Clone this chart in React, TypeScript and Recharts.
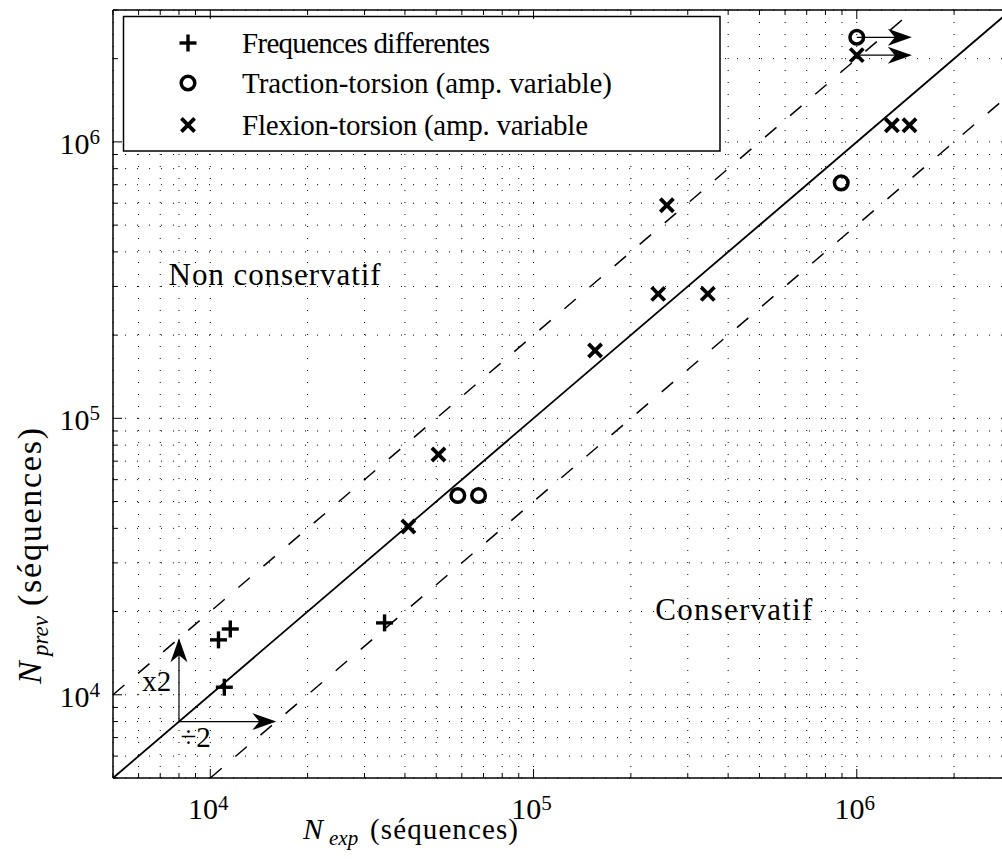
import React from 'react';
import { ScatterChart, Scatter, XAxis, YAxis, CartesianGrid, ReferenceLine, Customized } from 'recharts';

const FONT = '"Liberation Serif", "Times New Roman", serif';

const X_DOMAIN = [5000, 3000000];
const Y_DOMAIN = [5000, 3000000];
const X_TICKS = [5000, 6000, 7000, 8000, 9000, 10000, 20000, 30000, 40000, 50000, 60000, 70000, 80000, 90000, 100000, 200000, 300000, 400000, 500000, 600000, 700000, 800000, 900000, 1000000, 2000000, 3000000];
const Y_TICKS = [5000, 6000, 7000, 8000, 9000, 10000, 20000, 30000, 40000, 50000, 60000, 70000, 80000, 90000, 100000, 200000, 300000, 400000, 500000, 600000, 700000, 800000, 900000, 1000000, 2000000, 3000000];
const DECADES = [10000, 100000, 1000000];
const DECADE_EXPONENTS = ['4', '5', '6'];

const frequencesDifferentes = [
  { x: 11050, y: 10650 },
  { x: 10600, y: 15800 },
  { x: 11530, y: 17300 },
  { x: 34600, y: 18200 },
];
const tractionTorsion = [
  { x: 1000000, y: 2390000 },
  { x: 895000, y: 711000 },
  { x: 58300, y: 52600 },
  { x: 67600, y: 52600 },
];
const flexionTorsion = [
  { x: 1000000, y: 2060000 },
  { x: 1284000, y: 1149000 },
  { x: 1456000, y: 1149000 },
  { x: 258500, y: 590000 },
  { x: 243000, y: 282000 },
  { x: 346000, y: 282000 },
  { x: 155000, y: 176000 },
  { x: 50800, y: 74000 },
  { x: 41000, y: 40600 },
];

const unityLine = [{ x: 5000, y: 5000 }, { x: 3000000, y: 3000000 }];
const upperLine = [{ x: 5000, y: 10000 }, { x: 1500000, y: 3000000 }];
const lowerLine = [{ x: 10000, y: 5000 }, { x: 3000000, y: 1500000 }];

const arrowShafts = [
  [{ x: 1000000, y: 2390000 }, { x: 1460000, y: 2390000 }],
  [{ x: 1000000, y: 2060000 }, { x: 1460000, y: 2060000 }],
  [{ x: 8000, y: 8000 }, { x: 8000, y: 15800 }],
  [{ x: 8000, y: 8000 }, { x: 15800, y: 8000 }],
];
const arrowTips = [
  { x: 1480000, y: 2390000, dir: 'right' },
  { x: 1480000, y: 2060000, dir: 'right' },
  { x: 8000, y: 16000, dir: 'up' },
  { x: 16000, y: 8000, dir: 'right' },
];

const annotations = [
  { x: 7430, y: 303000, text: 'Non conservatif', anchor: 'start', size: 31, len: 212 },
  { x: 238000, y: 18700, text: 'Conservatif', anchor: 'start', size: 31, len: 157 },
  { x: 7570, y: 10300, text: 'x2', anchor: 'end', size: 29, len: 0 },
  { x: 8080, y: 6460, text: '\u00f72', anchor: 'start', size: 29, len: 0 },
];

const legendItems = [
  { label: 'Frequences differentes', marker: 'plus', len: 248 },
  { label: 'Traction-torsion (amp. variable)', marker: 'circle', len: 370 },
  { label: 'Flexion-torsion (amp. variable', marker: 'cross', len: 346 },
];

function PlusMark({ cx, cy }: any) {
  return (
    <g stroke="#000" strokeWidth={3.4} fill="none">
      <line x1={cx - 8.5} y1={cy} x2={cx + 8.5} y2={cy} />
      <line x1={cx} y1={cy - 8.5} x2={cx} y2={cy + 8.5} />
    </g>
  );
}
function CircleMark({ cx, cy }: any) {
  return <circle cx={cx} cy={cy} r={6.8} stroke="#000" strokeWidth={3.5} fill="none" />;
}
function CrossMark({ cx, cy }: any) {
  const a = 6.6;
  return (
    <g stroke="#000" strokeWidth={3.8} fill="none">
      <line x1={cx - a} y1={cy - a} x2={cx + a} y2={cy + a} />
      <line x1={cx - a} y1={cy + a} x2={cx + a} y2={cy - a} />
    </g>
  );
}
function ArrowHead({ cx, cy, payload }: any) {
  const rot = payload.dir === 'up' ? -90 : 0;
  return (
    <path
      d="M0,0 L-24,-8.5 L-17,0 L-24,8.5 Z"
      fill="#000"
      stroke="none"
      transform={`translate(${cx},${cy}) rotate(${rot})`}
    />
  );
}
function AnnotationText({ cx, cy, payload }: any) {
  const extra: any = payload.len ? { textLength: payload.len, lengthAdjust: 'spacing' } : {};
  return (
    <text x={cx} y={cy} textAnchor={payload.anchor} fontFamily={FONT} fontSize={payload.size} fill="#000" {...extra}>
      {payload.text}
    </text>
  );
}

function BottomTick(props: any) {
  const { x, y, payload } = props;
  const idx = DECADES.indexOf(payload.value);
  const major = idx >= 0;
  return (
    <g>
      <line x1={x} y1={y} x2={x} y2={y - (major ? 9 : 5)} stroke="#000" strokeWidth={1} />
      {major && (
        <text x={x - 2} y={y + 41} textAnchor="middle" fontFamily={FONT} style={{ fontSize: 30 }} fill="#000">
          10<tspan dy={-9} style={{ fontSize: 21 }}>{DECADE_EXPONENTS[idx]}</tspan>
        </text>
      )}
    </g>
  );
}
function TopTick(props: any) {
  const { x, y, payload } = props;
  const major = DECADES.indexOf(payload.value) >= 0;
  return <line x1={x} y1={y} x2={x} y2={y + (major ? 9 : 5)} stroke="#000" strokeWidth={1} />;
}
function LeftTick(props: any) {
  const { x, y, payload } = props;
  const idx = DECADES.indexOf(payload.value);
  const major = idx >= 0;
  return (
    <g>
      <line x1={x} y1={y} x2={x + (major ? 9 : 5)} y2={y} stroke="#000" strokeWidth={1} />
      {major && (
        <text x={x - 13} y={y + 12} textAnchor="end" fontFamily={FONT} style={{ fontSize: 30 }} fill="#000">
          10<tspan dy={-10} style={{ fontSize: 21 }}>{DECADE_EXPONENTS[idx]}</tspan>
        </text>
      )}
    </g>
  );
}

function Decorations() {
  return (
    <g>
      <rect x={123.5} y={16.5} width={596.5} height={134.5} fill="#fff" stroke="#000" strokeWidth={1.5} />
      {legendItems.map((item, i) => {
        const my = [43, 83, 125][i];
        const ty = [53, 93, 135][i];
        const M = item.marker === 'plus' ? PlusMark : item.marker === 'circle' ? CircleMark : CrossMark;
        return (
          <g key={item.label}>
            <M cx={188} cy={my} />
            <text x={242} y={ty} fontFamily={FONT} fontSize={29} fill="#000" textLength={item.len} lengthAdjust="spacing">
              {item.label}
            </text>
          </g>
        );
      })}
      <g fontFamily={FONT} fill="#000">
        <text x={303} y={839} fontSize={30} fontStyle="italic">N</text>
        <text x={329} y={845} fontSize={21} fontStyle="italic">exp</text>
        <text x={370} y={839} fontSize={29} textLength={148} lengthAdjust="spacing">(séquences)</text>
      </g>
      <g fontFamily={FONT} fill="#000" transform="translate(41,684) rotate(-90)">
        <text x={0} y={0} fontSize={34} fontStyle="italic">N</text>
        <text x={28} y={7} fontSize={23} fontStyle="italic">prev</text>
        <text x={78} y={0} fontSize={34} textLength={178} lengthAdjust="spacing">(séquences)</text>
      </g>
    </g>
  );
}

export default function App() {
  return (
    <div style={{ position: 'absolute', left: 0, top: 0, width: 1002, height: 859, overflow: 'hidden', background: '#fff' }}>
      <ScatterChart width={1020} height={859} margin={{ top: 9, right: 9, bottom: 80, left: 112 }}>
        <CartesianGrid
          stroke="#000"
          strokeWidth={1}
          strokeDasharray="1 11"
          syncWithTicks
          verticalValues={X_TICKS}
          horizontalValues={Y_TICKS}
        />
        <XAxis
          dataKey="x"
          type="number"
          scale="log"
          domain={X_DOMAIN}
          ticks={X_TICKS}
          interval={0}
          allowDataOverflow
          height={1}
          tickSize={0}
          tickMargin={0}
          tickLine={false}
          axisLine={{ stroke: '#000', strokeWidth: 1.5 }}
          tick={BottomTick}
        />
        <XAxis
          xAxisId="top"
          orientation="top"
          dataKey="x"
          type="number"
          scale="log"
          domain={X_DOMAIN}
          ticks={X_TICKS}
          interval={0}
          allowDataOverflow
          height={1}
          tickSize={0}
          tickMargin={0}
          tickLine={false}
          axisLine={{ stroke: '#000', strokeWidth: 1.5 }}
          tick={TopTick}
        />
        <YAxis
          dataKey="y"
          type="number"
          scale="log"
          domain={Y_DOMAIN}
          ticks={Y_TICKS}
          interval={0}
          allowDataOverflow
          width={1}
          tickSize={0}
          tickMargin={0}
          tickLine={false}
          axisLine={{ stroke: '#000', strokeWidth: 1.5 }}
          tick={LeftTick}
        />
        <ReferenceLine segment={unityLine} stroke="#000" strokeWidth={1.8} ifOverflow="visible" />
        <ReferenceLine segment={upperLine} stroke="#000" strokeWidth={1.5} strokeDasharray="15 18" ifOverflow="visible" />
        <ReferenceLine segment={lowerLine} stroke="#000" strokeWidth={1.5} strokeDasharray="15 18" ifOverflow="visible" />
        {arrowShafts.map((seg, i) => (
          <ReferenceLine key={`shaft-${i}`} segment={seg} stroke="#000" strokeWidth={1.2} ifOverflow="visible" />
        ))}
        <Scatter name="Frequences differentes" data={frequencesDifferentes} shape={<PlusMark />} isAnimationActive={false} />
        <Scatter name="Traction-torsion (amp. variable)" data={tractionTorsion} shape={<CircleMark />} isAnimationActive={false} />
        <Scatter name="Flexion-torsion (amp. variable" data={flexionTorsion} shape={<CrossMark />} isAnimationActive={false} />
        <Scatter name="arrows" data={arrowTips} shape={<ArrowHead />} isAnimationActive={false} />
        <Scatter name="annotations" data={annotations} shape={<AnnotationText />} isAnimationActive={false} />
        <Customized component={<Decorations />} />
      </ScatterChart>
    </div>
  );
}
